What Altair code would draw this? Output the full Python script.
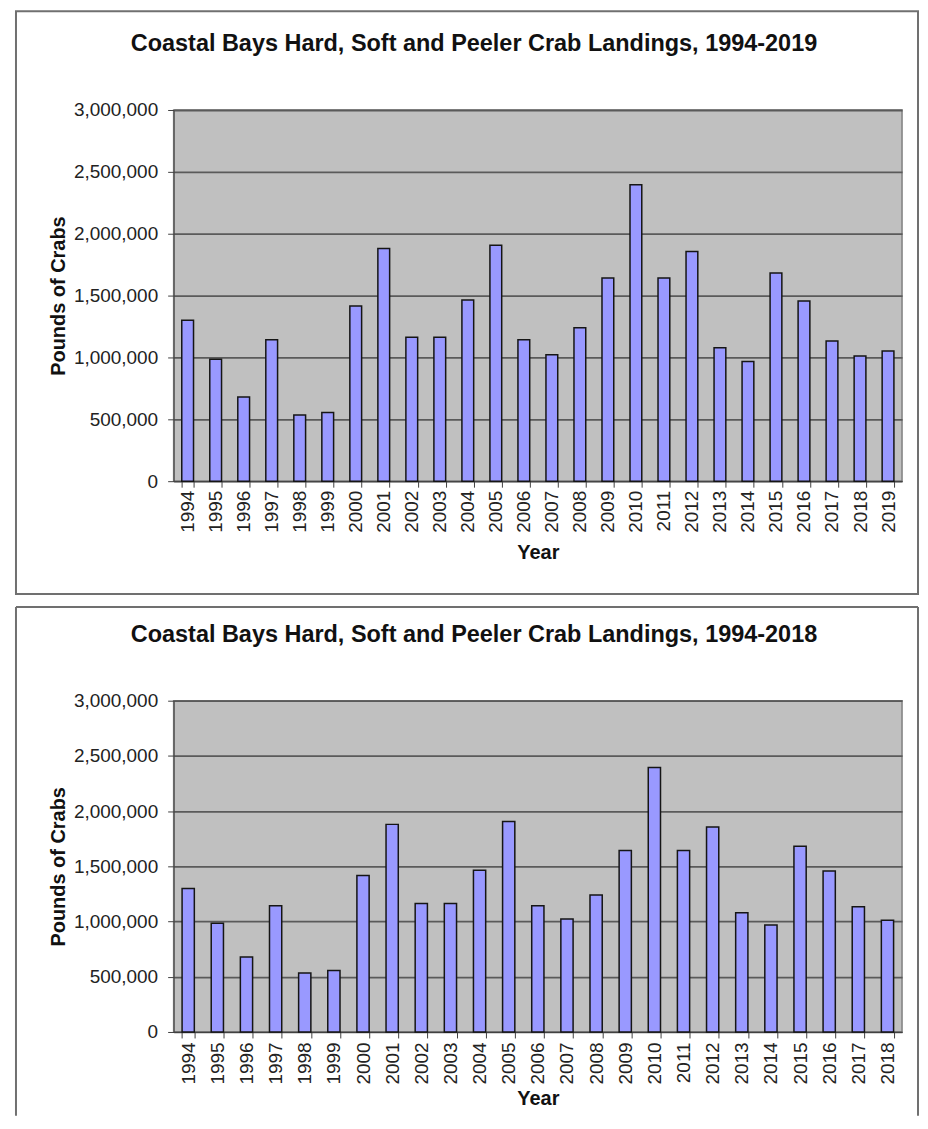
import altair as alt
import pandas as pd

# ---- data ----
years_top = ["1994", "1995", "1996", "1997", "1998", "1999", "2000", "2001", "2002",
             "2003", "2004", "2005", "2006", "2007", "2008", "2009", "2010", "2011",
             "2012", "2013", "2014", "2015", "2016", "2017", "2018", "2019"]
pounds_top = [1300000, 985000, 680000, 1144000, 534000, 556000, 1416000, 1880000,
              1163000, 1163000, 1465000, 1907000, 1144000, 1022000, 1241000, 1643000,
              2395000, 1643000, 1856000, 1079000, 968000, 1683000, 1457000, 1133000,
              1012000, 1052000]

years_bottom = years_top[:25]
pounds_bottom = pounds_top[:25]

title_top = "Coastal Bays Hard, Soft and Peeler Crab Landings, 1994-2019"
title_bottom = "Coastal Bays Hard, Soft and Peeler Crab Landings, 1994-2018"
y_ticks = [0, 500000, 1000000, 1500000, 2000000, 2500000, 3000000]

FONT = "Liberation Sans"
W = 730


def panel(years, values, title_text, h, label_pad, year_pad, closed_frame, frame_top, frame_bottom):
    df = pd.DataFrame({"Year": years, "Pounds": values})
    bars = alt.Chart(df).mark_bar(
        fill="#9999FF", stroke="#151515", strokeWidth=1.5
    ).encode(
        x=alt.X("Year:N", sort=None, title="Year",
                scale=alt.Scale(paddingInner=0.58, paddingOuter=0.29),
                axis=alt.Axis(labelAngle=270, tickBand="extent", grid=False,
                              labelPadding=label_pad, titlePadding=year_pad,
                              tickSize=6)),
        y=alt.Y("Pounds:Q", title="Pounds of Crabs",
                scale=alt.Scale(domain=[0, 3000000], nice=False),
                axis=alt.Axis(values=y_ticks, labelExpr="format(datum.value, ',')",
                              grid=True, labelPadding=10, titlePadding=5, tickSize=6)),
    )
    title = alt.Chart(pd.DataFrame({"t": [title_text]})).mark_text(
        font=FONT, fontSize=23.5, fontWeight="bold", color="#111111",
        align="center", baseline="middle"
    ).encode(text="t:N", x=alt.value(301), y=alt.value(-66))

    one = pd.DataFrame({"a": [0]})
    if closed_frame:
        frame = alt.Chart(one).mark_rect(
            fillOpacity=0, stroke="#707070", strokeWidth=2
        ).encode(x=alt.value(-158), x2=alt.value(746),
                 y=alt.value(frame_top), y2=alt.value(frame_bottom))
        layers = [frame, bars, title]
    else:
        left = alt.Chart(one).mark_rule(color="#707070", strokeWidth=2).encode(
            x=alt.value(-158), y=alt.value(frame_top), y2=alt.value(frame_bottom))
        right = alt.Chart(one).mark_rule(color="#707070", strokeWidth=2).encode(
            x=alt.value(746), y=alt.value(frame_top), y2=alt.value(frame_bottom))
        top = alt.Chart(one).mark_rule(color="#707070", strokeWidth=2).encode(
            x=alt.value(-158), x2=alt.value(746), y=alt.value(frame_top))
        layers = [left, right, top, bars, title]
    return alt.layer(*layers).properties(width=W, height=h)


top_chart = panel(years_top, pounds_top, title_top, 372, 3, 10, True, -99, 485)
bottom_chart = panel(years_bottom, pounds_bottom, title_bottom, 332, 4, 4, False, -94, 416)

chart = alt.vconcat(top_chart, bottom_chart, spacing=9).properties(
    padding={"left": 6, "top": 0, "right": 0, "bottom": 0}
).configure(
    font=FONT
).configure_view(
    fill="#C0C0C0", stroke="#808080", strokeWidth=1.5
).configure_axis(
    labelFont=FONT, labelFontSize=19, labelColor="#222222",
    titleFont=FONT, titleFontSize=20, titleFontWeight="bold", titleColor="#111111",
    domainColor="#404040", domainWidth=1, tickColor="#404040", tickWidth=1,
    gridColor="#5a5a5a", gridWidth=1.8
)

chart.save("out.html", embed_options={"renderer": "svg", "actions": False})
